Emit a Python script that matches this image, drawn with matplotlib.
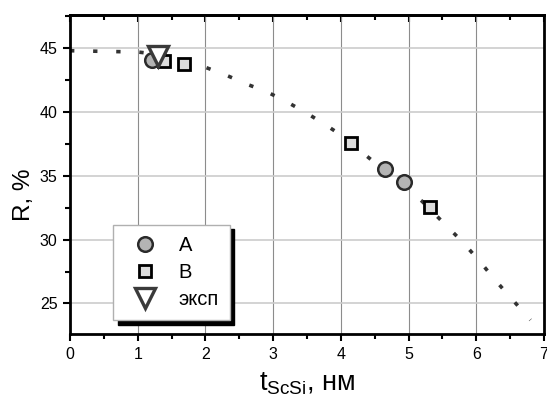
import matplotlib
matplotlib.use('Agg')
import matplotlib.pyplot as plt
from matplotlib.ticker import MultipleLocator

plt.rcParams['font.family'] = ['Liberation Sans', 'DejaVu Sans']
plt.rcParams['mathtext.fontset'] = 'custom'
plt.rcParams['mathtext.rm'] = 'Liberation Sans'
plt.rcParams['mathtext.it'] = 'Liberation Sans'

# Data
# calculated curve (dotted)
curve_t = [0.0, 0.5, 1.0, 1.5, 2.0, 2.3, 2.6, 2.9, 3.2, 3.5, 3.8, 4.0,
           4.3, 4.6, 4.9, 5.2, 5.5, 5.8, 6.05, 6.3, 6.55, 6.8]
curve_r = [44.8, 44.75, 44.7, 44.4, 43.5, 42.9, 42.2, 41.6, 40.8, 39.9, 38.9, 38.2,
           36.9, 35.6, 34.3, 33.0, 31.4, 29.8, 28.3, 26.7, 25.2, 23.7]

a_t = [1.21, 4.65, 4.93]
a_r = [44.1, 35.5, 34.5]

b_t = [1.39, 1.69, 4.15, 5.32]
b_r = [44.0, 43.75, 37.55, 32.55]

exp_t = [1.30]
exp_r = [44.4]

fig = plt.figure(figsize=(5.47, 4.01), dpi=100)
ax = fig.add_axes([0.128, 0.167, 0.8665, 0.7956])

ax.plot(curve_t, curve_r, color='#333333', linewidth=2.6,
        linestyle=(0, (1.2, 5.2)), zorder=2)

ax.plot(a_t, a_r, 'o', markersize=10.5, markerfacecolor='#b4b4b4',
        markeredgecolor='#2a2a2a', markeredgewidth=1.8, label='A', zorder=3)
ax.plot(b_t, b_r, 's', markersize=9, markerfacecolor='#dcdcdc',
        markeredgecolor='black', markeredgewidth=2.0, label='B', zorder=3)
ax.plot(exp_t, exp_r, 'v', markersize=14, markerfacecolor='white',
        markeredgecolor='#3a3a3a', markeredgewidth=2.4, label='эксп', zorder=4)

ax.set_xlim(0, 7)
ax.set_ylim(22.6, 47.6)
ax.xaxis.set_major_locator(MultipleLocator(1))
ax.xaxis.set_minor_locator(MultipleLocator(0.5))
ax.yaxis.set_major_locator(MultipleLocator(5))
ax.yaxis.set_minor_locator(MultipleLocator(2.5))

ax.grid(True, axis='x', color='#8c8c8c', linewidth=0.8, zorder=0)
ax.grid(True, axis='y', color='#cccccc', linewidth=1.2, zorder=0)
ax.set_axisbelow(True)

for s in ax.spines.values():
    s.set_linewidth(2.0)
ax.tick_params(which='both', direction='out', width=1.5, labelsize=11.5,
               pad=4)
ax.tick_params(which='major', length=5)
ax.tick_params(which='minor', length=3.5)

# top axis: inward ticks, no labels
top = ax.secondary_xaxis('top')
top.xaxis.set_major_locator(MultipleLocator(1))
top.xaxis.set_minor_locator(MultipleLocator(0.5))
top.tick_params(which='both', direction='in', width=1.5, labeltop=False)
top.tick_params(which='major', length=5)
top.tick_params(which='minor', length=3.5)
top.spines['top'].set_linewidth(2.0)

ax.set_xlabel(r'$\mathregular{t_{ScSi}}$, нм', fontsize=19.5)
ax.xaxis.set_label_coords(0.5, -0.115)
ax.set_ylabel('R, %', fontsize=17.5)
ax.yaxis.set_label_coords(-0.073, 0.436)

leg = ax.legend(loc='upper left', bbox_to_anchor=(0.091, 0.342), fontsize=14.5,
                frameon=True, fancybox=False, edgecolor='#b0b0b0',
                shadow={'color': 'black', 'alpha': 1.0, 'ox': 3.2, 'oy': -3.2},
                borderpad=0.55, labelspacing=0.4, handletextpad=0.6,
                borderaxespad=0, handlelength=2.1)
leg.get_frame().set_linewidth(1.0)

plt.savefig('out.png', dpi=100)
